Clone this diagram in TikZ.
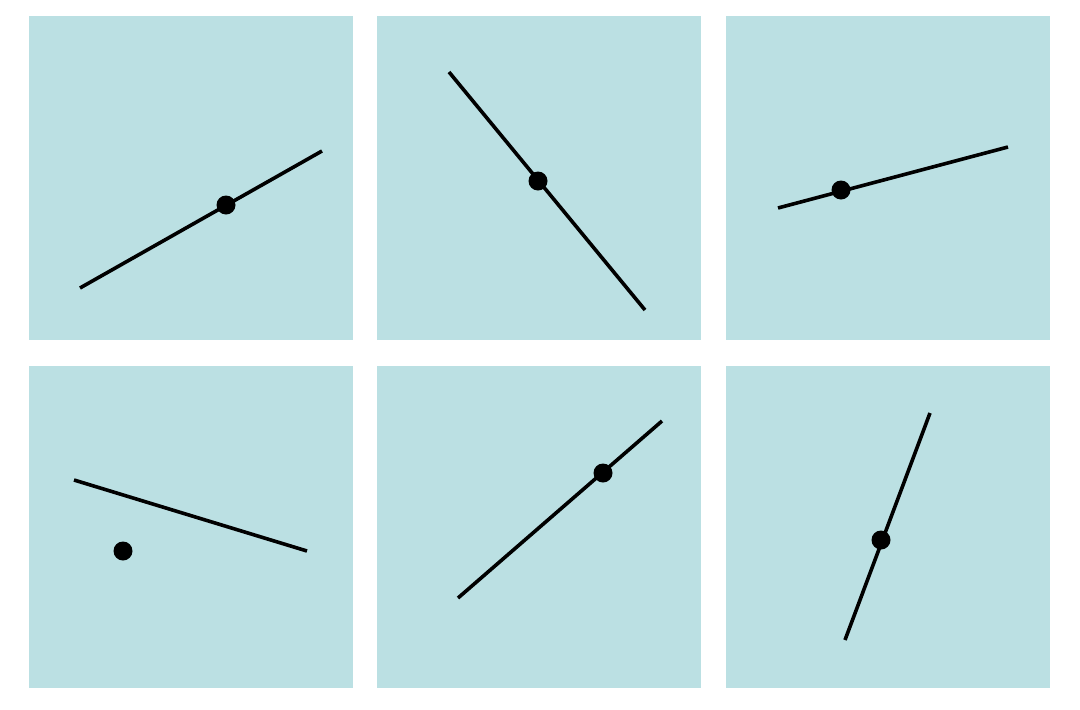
\documentclass[tikz,border=0pt]{standalone}
\definecolor{panelbg}{RGB}{187,224,227}
\begin{document}
\begin{tikzpicture}[x=1pt,y=-1pt,
  panel/.style={fill=panelbg,draw=none},
  seg/.style={line width=3.6pt,black},
  pt/.style={circle,fill=black,inner sep=0pt,minimum size=19pt}]
\useasboundingbox (0,0) rectangle (1080,710);
\fill[white] (0,0) rectangle (1080,710);
\foreach \x in {29,377,726}{
  \fill[panelbg] (\x,16) rectangle ++(324,324);
  \fill[panelbg] (\x,366) rectangle ++(324,322);
}
% panel 1
\coordinate (a1) at (80,288); \coordinate (b1) at (322,151);
\draw[seg] (a1) -- (b1);
\node[pt] (p1) at (226,205) {};
% panel 2
\coordinate (a2) at (449,72); \coordinate (b2) at (645,310);
\draw[seg] (a2) -- (b2);
\node[pt] (p2) at (538,181) {};
% panel 3
\coordinate (a3) at (778,208); \coordinate (b3) at (1008,147);
\draw[seg] (a3) -- (b3);
\node[pt] (p3) at (841,190) {};
% panel 4
\coordinate (a4) at (74,480); \coordinate (b4) at (307,551);
\draw[seg] (a4) -- (b4);
\node[pt] (p4) at (123,551) {};
% panel 5
\coordinate (a5) at (458,598); \coordinate (b5) at (662,421);
\draw[seg] (a5) -- (b5);
\node[pt] (p5) at (603,473) {};
% panel 6
\coordinate (a6) at (845,640); \coordinate (b6) at (930,413);
\draw[seg] (a6) -- (b6);
\node[pt] (p6) at (881,540) {};
\end{tikzpicture}
\end{document}
